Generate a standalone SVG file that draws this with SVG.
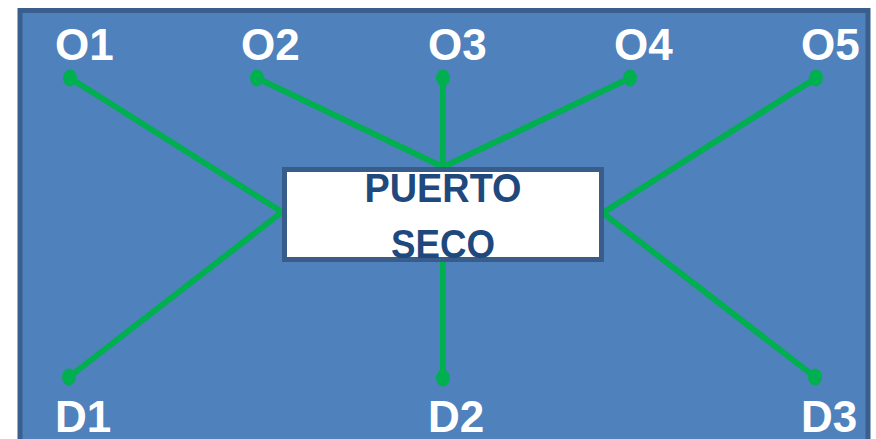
<svg xmlns="http://www.w3.org/2000/svg" width="876" height="439" viewBox="0 0 876 439">
<style>
.lbl{font-family:"Liberation Sans",Arial,sans-serif;font-weight:bold;font-size:44px;fill:#ffffff}
.ln{stroke:#00b050;stroke-width:6;stroke-linecap:round;fill:none}
.dot{fill:#00b050}
.ttl{font-family:"Liberation Sans",Arial,sans-serif;font-weight:bold;font-size:40px;fill:#1f497d;text-anchor:middle}
</style>
<rect x="0" y="0" width="876" height="439" fill="#ffffff"/>
<g id="frame">
<rect x="20" y="10.5" width="848" height="440" fill="#4f81bd" stroke="#3a5f8c" stroke-width="5"/>
</g>
<g id="connectors">
<line class="ln" x1="70" y1="78" x2="282" y2="212"/>
<line class="ln" x1="257" y1="78" x2="443" y2="167"/>
<line class="ln" x1="443" y1="78" x2="443" y2="167"/>
<line class="ln" x1="630" y1="78" x2="443" y2="167"/>
<line class="ln" x1="816" y1="78" x2="604" y2="212"/>
<line class="ln" x1="69" y1="377" x2="282" y2="212"/>
<line class="ln" x1="443" y1="378" x2="443" y2="262"/>
<line class="ln" x1="815" y1="377" x2="604" y2="214"/>
<ellipse class="dot" cx="70" cy="78" rx="7" ry="8.5"/>
<ellipse class="dot" cx="257" cy="78" rx="7" ry="8.5"/>
<ellipse class="dot" cx="443" cy="78" rx="7" ry="8.5"/>
<ellipse class="dot" cx="630" cy="78" rx="7" ry="8.5"/>
<ellipse class="dot" cx="816" cy="78" rx="7" ry="8.5"/>
<ellipse class="dot" cx="69" cy="377" rx="7" ry="8.5"/>
<ellipse class="dot" cx="443" cy="378" rx="7" ry="8.5"/>
<ellipse class="dot" cx="815" cy="377" rx="7" ry="8.5"/>
</g>
<g id="O1"><text class="lbl" x="55" y="60">O1</text></g>
<g id="O2"><text class="lbl" x="241" y="60">O2</text></g>
<g id="O3"><text class="lbl" x="428" y="60">O3</text></g>
<g id="O4"><text class="lbl" x="614" y="60">O4</text></g>
<g id="O5"><text class="lbl" x="801" y="60">O5</text></g>
<g id="D1"><text class="lbl" x="55" y="432">D1</text></g>
<g id="D2"><text class="lbl" x="428" y="432">D2</text></g>
<g id="D3"><text class="lbl" x="801" y="432">D3</text></g>
<g id="puerto-seco">
<rect x="284.5" y="169.5" width="317" height="90" fill="#ffffff" stroke="#385d8a" stroke-width="5"/>
<text class="ttl" x="443" y="202" textLength="157" lengthAdjust="spacingAndGlyphs">PUERTO</text>
<text class="ttl" x="443" y="258" textLength="104" lengthAdjust="spacingAndGlyphs">SECO</text>
</g>
</svg>
